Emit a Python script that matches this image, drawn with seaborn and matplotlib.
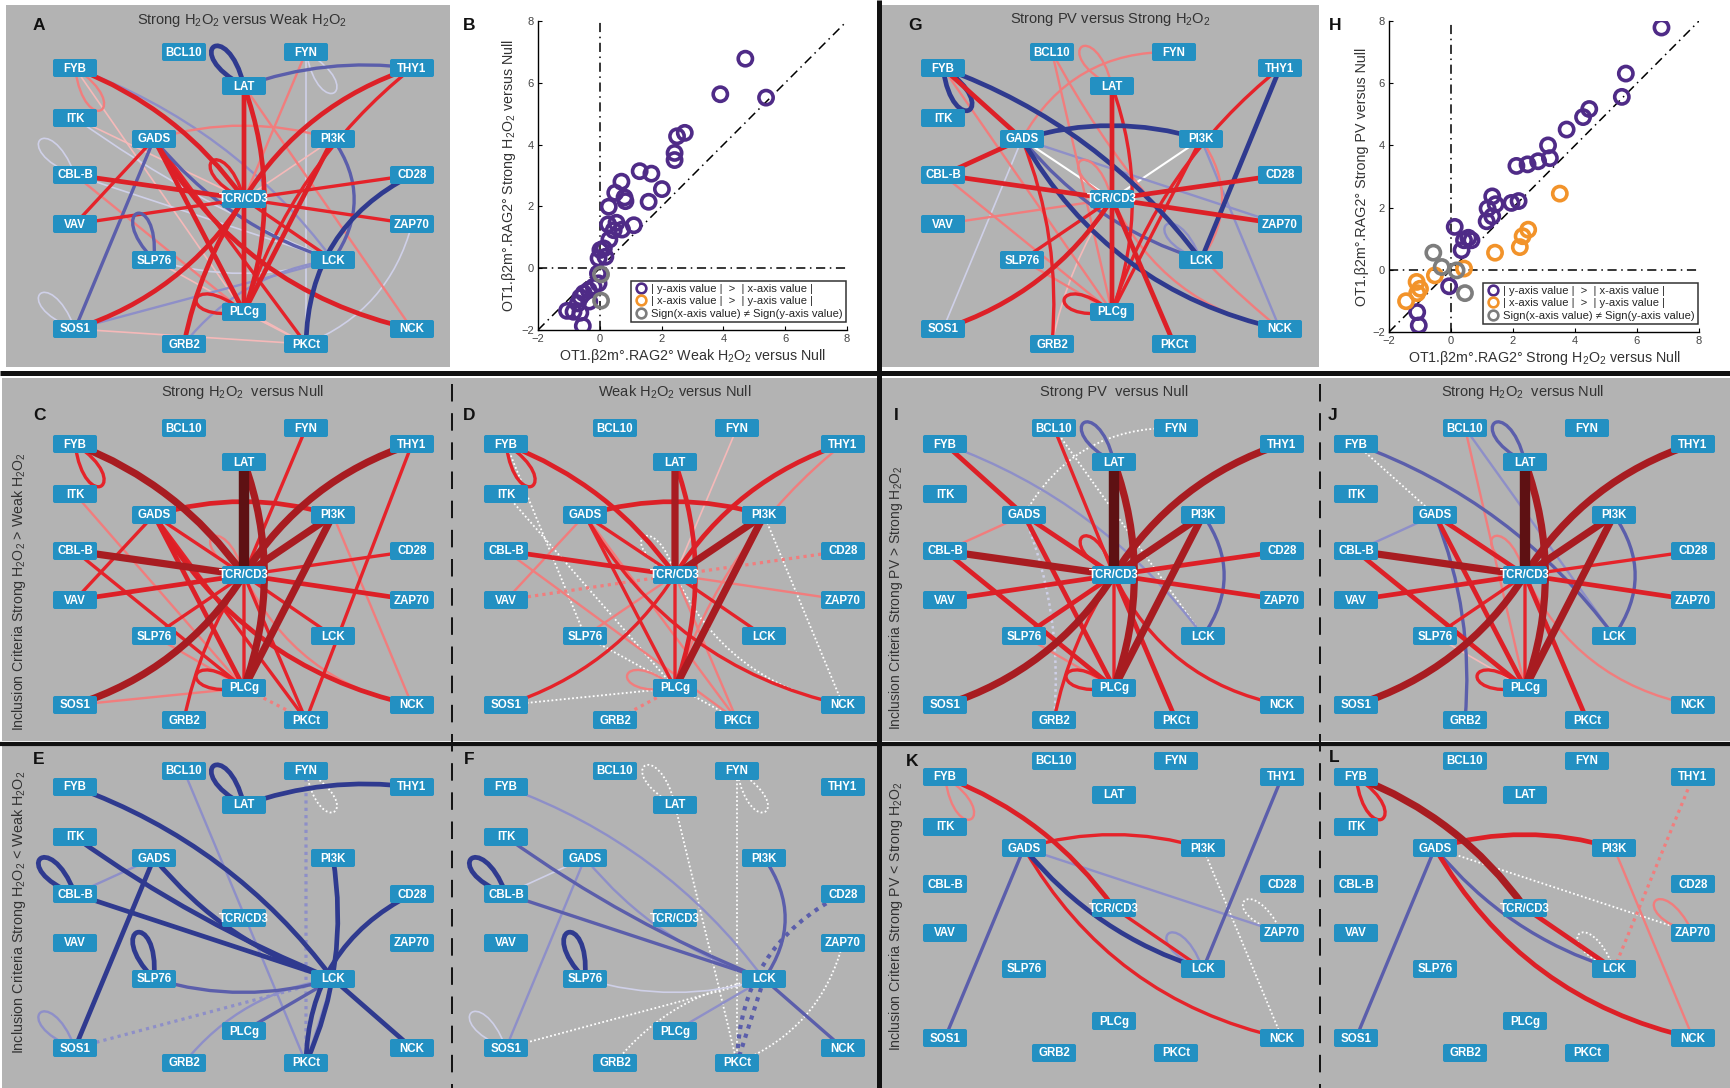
import numpy as np
import pandas as pd
import matplotlib
matplotlib.use("Agg")
import matplotlib.pyplot as plt
import seaborn as sns
from matplotlib.path import Path
from matplotlib.patches import PathPatch, Rectangle, FancyBboxPatch
from matplotlib.lines import Line2D
from matplotlib import font_manager

# ---------------------------------------------------------------- scatter data
B_PURPLE_X = [4.71, 3.90, 5.38, 2.75, 2.50, 2.42, 2.42, 1.29, 1.67, 2.01, 1.58,
              0.70, 0.50, 0.80, 0.83, 0.29, 1.10, 0.27, 0.54, 0.72, 0.45, 0.31,
              0.13, 0.02, -0.04, 0.18, -0.06, -0.04, -0.20, -0.36, -0.52, -0.63,
              -0.34, -0.71, -1.06, -0.85, -0.63, -0.55]
B_PURPLE_Y = [6.78, 5.63, 5.52, 4.38, 4.27, 3.73, 3.50, 3.14, 3.06, 2.56, 2.15,
              2.80, 2.44, 2.29, 2.17, 1.99, 1.39, 1.42, 1.47, 1.25, 1.23, 0.93,
              0.64, 0.59, 0.32, 0.37, -0.17, -0.49, -0.60, -0.71, -0.81, -0.94,
              -1.08, -1.14, -1.38, -1.41, -1.44, -1.87]
B_GRAY_X = [0.04, 0.04]
B_GRAY_Y = [-0.20, -1.05]

H_PURPLE_X = [6.79, 5.64, 5.51, 4.46, 4.26, 3.73, 3.13, 3.19, 2.81, 2.47, 2.11,
              2.18, 1.95, 1.33, 1.44, 1.18, 1.33, 1.15, 0.12, 0.56, 0.42, 0.66,
              0.34, -0.06, -1.09, -1.04]
H_PURPLE_Y = [7.79, 6.31, 5.56, 5.17, 4.91, 4.51, 4.00, 3.59, 3.49, 3.39, 3.34,
              2.21, 2.15, 2.36, 2.11, 1.97, 1.72, 1.56, 1.38, 1.03, 0.95, 0.95,
              0.63, -0.53, -1.36, -1.79]
H_ORANGE_X = [3.51, 2.49, 2.31, 2.22, 1.42, 0.42, -0.52, -1.11, -1.00, -1.09, -1.45]
H_ORANGE_Y = [2.45, 1.29, 1.08, 0.73, 0.55, 0.04, -0.18, -0.39, -0.61, -0.75, -1.01]
H_GRAY_X = [-0.57, -0.30, 0.18, 0.45]
H_GRAY_Y = [0.55, 0.09, -0.02, -0.75]

AXIS_TICKS = [-2, 0, 2, 4, 6, 8]
LEGEND_LABELS = ["| y-axis value |  >  | x-axis value |",
                 "| x-axis value |  >  | y-axis value |",
                 "Sign(x-axis value) \u2260 Sign(y-axis value)"]

# ---------------------------------------------------------------- network data
# edges: (node, node, signed strength); positive = red, negative = blue, 0 = white
EDGES_A = [
    ("FYB", "TCR/CD3", 4), ("FYB", "FYB", 2), ("FYB", "PLCg", 1), ("FYB", "LCK", -2),
    ("LAT", "LAT", -4), ("LAT", "THY1", -3), ("LAT", "TCR/CD3", 4), ("LAT", "PLCg", 4),
    ("LAT", "NCK", 2), ("FYN", "FYN", -1), ("FYN", "TCR/CD3", 2), ("FYN", "PKCt", -1),
    ("THY1", "TCR/CD3", 4), ("THY1", "PLCg", 3), ("ITK", "TCR/CD3", 1), ("ITK", "LCK", -1),
    ("GADS", "PI3K", 2), ("GADS", "PLCg", 4), ("GADS", "PKCt", 3), ("GADS", "VAV", 3),
    ("GADS", "SOS1", -3), ("GADS", "LCK", -3), ("GADS", "NCK", 4),
    ("PI3K", "TCR/CD3", 1), ("PI3K", "PLCg", 4), ("PI3K", "LCK", -3),
    ("CBL-B", "CBL-B", -1), ("CBL-B", "TCR/CD3", 4), ("CBL-B", "LCK", -1), ("CBL-B", "PLCg", 2),
    ("CD28", "TCR/CD3", 3), ("CD28", "PKCt", -4), ("VAV", "TCR/CD3", 3),
    ("ZAP70", "TCR/CD3", 3), ("ZAP70", "PKCt", -1),
    ("SLP76", "SLP76", -3), ("SLP76", "LCK", -1), ("SLP76", "PKCt", 1),
    ("LCK", "TCR/CD3", 3), ("PLCg", "PLCg", 3), ("PLCg", "TCR/CD3", 4), ("PLCg", "PKCt", 1),
    ("TCR/CD3", "TCR/CD3", 3), ("SOS1", "SOS1", -1), ("SOS1", "TCR/CD3", 4),
    ("SOS1", "LCK", -2), ("SOS1", "PKCt", 1), ("GRB2", "TCR/CD3", 4), ("GRB2", "LCK", -2),
]
DOTTED_A = []

EDGES_G = [
    ("FYB", "FYB", -4), ("FYB", "GADS", 4), ("FYB", "LCK", -4), ("FYB", "PLCg", 2),
    ("GADS", "PI3K", -4), ("GADS", "NCK", -4), ("GADS", "LCK", -3), ("THY1", "LCK", -4),
    ("GADS", "ZAP70", -2), ("PI3K", "NCK", -2), ("LCK", "LCK", -2), ("GADS", "SOS1", -1),
    ("CBL-B", "GADS", 4), ("CBL-B", "TCR/CD3", 4), ("CD28", "TCR/CD3", 4),
    ("ZAP70", "TCR/CD3", 4), ("LAT", "TCR/CD3", 4), ("LAT", "PLCg", 3), ("THY1", "PLCg", 3),
    ("PI3K", "PLCg", 3), ("SLP76", "TCR/CD3", 3), ("SOS1", "TCR/CD3", 4),
    ("PLCg", "TCR/CD3", 4), ("PKCt", "TCR/CD3", 4), ("PLCg", "PLCg", 3), ("GADS", "GRB2", 3),
    ("LAT", "LAT", 2), ("FYN", "GADS", 2), ("BCL10", "PLCg", 2), ("BCL10", "NCK", 2),
    ("CBL-B", "PLCg", 2), ("VAV", "TCR/CD3", 2), ("PI3K", "LCK", 2), ("SLP76", "PLCg", 2),
    ("GRB2", "TCR/CD3", 1), ("TCR/CD3", "NCK", 2), ("TCR/CD3", "TCR/CD3", 2),
    ("GADS", "TCR/CD3", 0), ("PI3K", "TCR/CD3", 0),
]
DOTTED_G = []

EDGES_C = [
    ("FYB", "FYB", 3), ("FYB", "TCR/CD3", 5), ("ITK", "PLCg", 2), ("LAT", "TCR/CD3", 6),
    ("LAT", "PLCg", 5), ("THY1", "TCR/CD3", 5), ("THY1", "PKCt", 3), ("FYN", "TCR/CD3", 3),
    ("PI3K", "TCR/CD3", 5), ("PI3K", "PLCg", 5), ("PI3K", "NCK", 2), ("GADS", "PI3K", 4),
    ("GADS", "TCR/CD3", 3), ("GADS", "PLCg", 4), ("GADS", "PKCt", 3), ("GADS", "VAV", 3),
    ("GADS", "NCK", 4), ("CBL-B", "TCR/CD3", 5), ("CBL-B", "PLCg", 3), ("VAV", "TCR/CD3", 4),
    ("CD28", "TCR/CD3", 3), ("ZAP70", "TCR/CD3", 4), ("LCK", "TCR/CD3", 3),
    ("SLP76", "TCR/CD3", 3), ("GRB2", "TCR/CD3", 3), ("PKCt", "TCR/CD3", 3),
    ("PLCg", "TCR/CD3", 3), ("SOS1", "TCR/CD3", 5), ("SOS1", "PLCg", 2), ("SLP76", "PLCg", 2),
    ("PLCg", "PLCg", 3), ("TCR/CD3", "TCR/CD3", 2), ("TCR/CD3", "NCK", 2),
]
DOTTED_C = [("PLCg", "PKCt", 2)]

EDGES_D = [
    ("FYB", "FYB", 3), ("FYB", "TCR/CD3", 4), ("LAT", "TCR/CD3", 5), ("LAT", "PLCg", 4),
    ("THY1", "TCR/CD3", 4), ("THY1", "PLCg", 2), ("FYN", "TCR/CD3", 1),
    ("PI3K", "TCR/CD3", 5), ("PI3K", "PLCg", 5), ("GADS", "PI3K", 4), ("GADS", "TCR/CD3", 3),
    ("GADS", "PLCg", 3), ("GADS", "PKCt", 2), ("GADS", "NCK", 3), ("CBL-B", "TCR/CD3", 4),
    ("CBL-B", "PKCt", 2), ("GADS", "VAV", 2), ("ZAP70", "TCR/CD3", 2), ("LCK", "TCR/CD3", 3),
    ("SLP76", "TCR/CD3", 2), ("PLCg", "TCR/CD3", 3), ("PKCt", "TCR/CD3", 2),
    ("PLCg", "PLCg", 2), ("SOS1", "TCR/CD3", 3),
]
DOTTED_D = [
    ("FYB", "SLP76", 0), ("ITK", "PLCg", 0), ("PI3K", "NCK", 0), ("SOS1", "PLCg", 0),
    ("SLP76", "PKCt", 0), ("TCR/CD3", "TCR/CD3", 0), ("TCR/CD3", "NCK", 0),
    ("GRB2", "PLCg", 2), ("VAV", "TCR/CD3", 2), ("CD28", "TCR/CD3", 2),
]

EDGES_E = [
    ("FYB", "LCK", -4), ("BCL10", "PKCt", -2), ("LAT", "LAT", -4), ("LAT", "THY1", -4),
    ("ITK", "LCK", -4), ("CBL-B", "CBL-B", -4), ("CBL-B", "GADS", -2), ("CBL-B", "LCK", -4),
    ("GADS", "SOS1", -4), ("GADS", "LCK", -4), ("SLP76", "SLP76", -4), ("SLP76", "LCK", -3),
    ("SOS1", "SOS1", -2), ("PI3K", "PKCt", -4), ("CD28", "PKCt", -4), ("LCK", "PLCg", -3),
    ("LCK", "NCK", -4), ("GRB2", "LCK", -2), ("LCK", "PKCt", -2),
]
DOTTED_E = [("FYN", "FYN", 0), ("FYN", "PKCt", -2), ("SOS1", "LCK", -2)]

EDGES_F = [
    ("FYB", "LCK", -2), ("ITK", "LCK", -3), ("CBL-B", "CBL-B", -4), ("CBL-B", "GADS", -1),
    ("CBL-B", "LCK", -3), ("GADS", "SOS1", -2), ("GADS", "LCK", -2), ("SLP76", "SLP76", -4),
    ("SLP76", "LCK", -1), ("SOS1", "SOS1", -1), ("PI3K", "LCK", -3), ("LCK", "PLCg", -2),
    ("LCK", "NCK", -3),
]
DOTTED_F = [
    ("LAT", "LAT", 0), ("LAT", "PKCt", 0), ("FYN", "FYN", 0), ("FYN", "PKCt", 0),
    ("SOS1", "LCK", 0), ("CD28", "PKCt", -3), ("ZAP70", "PKCt", 0), ("GRB2", "LCK", 0),
    ("LCK", "PKCt", -3),
]

EDGES_I = [
    ("FYB", "GADS", 4), ("FYB", "LCK", -2), ("BCL10", "TCR/CD3", 3), ("LAT", "LAT", -3),
    ("LAT", "TCR/CD3", 6), ("LAT", "PLCg", 5), ("THY1", "TCR/CD3", 5), ("PI3K", "TCR/CD3", 5),
    ("PI3K", "PLCg", 5), ("PI3K", "LCK", -3), ("GADS", "TCR/CD3", 4), ("GADS", "PLCg", 4),
    ("CBL-B", "GADS", 2), ("CBL-B", "TCR/CD3", 5), ("CBL-B", "PLCg", 4), ("VAV", "TCR/CD3", 4),
    ("CD28", "TCR/CD3", 4), ("ZAP70", "TCR/CD3", 4), ("SLP76", "TCR/CD3", 4),
    ("SLP76", "PLCg", 2), ("SOS1", "TCR/CD3", 5), ("GRB2", "TCR/CD3", 3),
    ("PLCg", "TCR/CD3", 3), ("PLCg", "PLCg", 3), ("TCR/CD3", "TCR/CD3", 3),
    ("PKCt", "TCR/CD3", 4), ("TCR/CD3", "NCK", 3),
]
DOTTED_I = [("BCL10", "LCK", 0), ("FYN", "GADS", 0), ("GADS", "GRB2", -1)]

EDGES_J = [
    ("FYB", "LCK", -3), ("BCL10", "LCK", -2), ("BCL10", "PLCg", 2), ("LAT", "LAT", -3),
    ("LAT", "TCR/CD3", 6), ("LAT", "PLCg", 5), ("THY1", "TCR/CD3", 5), ("PI3K", "TCR/CD3", 5),
    ("PI3K", "PLCg", 5), ("PI3K", "LCK", -3), ("GADS", "TCR/CD3", 4), ("GADS", "PLCg", 4),
    ("CBL-B", "GADS", -2), ("GADS", "GRB2", -3), ("CBL-B", "TCR/CD3", 5), ("CBL-B", "PLCg", 4),
    ("VAV", "TCR/CD3", 4), ("CD28", "TCR/CD3", 3), ("ZAP70", "TCR/CD3", 4),
    ("SLP76", "TCR/CD3", 3), ("SLP76", "PLCg", 1), ("SOS1", "TCR/CD3", 5),
    ("PLCg", "TCR/CD3", 3), ("PLCg", "PLCg", 3), ("TCR/CD3", "TCR/CD3", 2),
    ("PKCt", "TCR/CD3", 4), ("TCR/CD3", "NCK", 2),
]
DOTTED_J = [("FYB", "GADS", 0)]

EDGES_K = [
    ("FYB", "FYB", 2), ("FYB", "TCR/CD3", 4), ("TCR/CD3", "LCK", 3), ("GADS", "PI3K", 3),
    ("GADS", "ZAP70", -2), ("GADS", "LCK", -4), ("GADS", "SOS1", -3), ("GADS", "NCK", 3),
    ("LCK", "LCK", -2), ("LCK", "THY1", -3),
]
DOTTED_K = [("PI3K", "NCK", 0), ("ZAP70", "ZAP70", 0)]

EDGES_L = [
    ("FYB", "FYB", 3), ("FYB", "TCR/CD3", 5), ("TCR/CD3", "LCK", 4), ("GADS", "PI3K", 4),
    ("GADS", "LCK", -3), ("GADS", "SOS1", -3), ("GADS", "NCK", 4), ("PI3K", "NCK", 2),
    ("ZAP70", "ZAP70", 2),
]
DOTTED_L = [("GADS", "ZAP70", 0), ("LCK", "LCK", 0), ("LCK", "THY1", 2)]

# ---------------------------------------------------------------- layout / style
# node offsets from the TCR/CD3 hub, in pixels (y grows downward)
LAYOUT = {
    "BCL10": (-60, -147), "FYN": (62, -147), "FYB": (-169, -131), "THY1": (168, -131),
    "LAT": (0, -113), "ITK": (-169, -81), "GADS": (-90, -60), "PI3K": (89, -60),
    "CBL-B": (-169, -24), "CD28": (168, -24), "TCR/CD3": (0, 0), "VAV": (-169, 25),
    "ZAP70": (168, 25), "SLP76": (-90, 61), "LCK": (89, 61), "PLCg": (0, 113),
    "SOS1": (-169, 130), "NCK": (168, 130), "GRB2": (-60, 145), "PKCt": (62, 145),
}
# curvature of specific edges (sign follows the written node order)
BEND = {
    ("FYB", "TCR/CD3"): -0.15, ("LAT", "PLCg"): -0.18, ("THY1", "TCR/CD3"): 0.18,
    ("SOS1", "TCR/CD3"): 0.18, ("GADS", "PI3K"): -0.15, ("GADS", "NCK"): 0.22,
    ("CD28", "PKCt"): 0.3, ("ZAP70", "PKCt"): -0.25, ("FYB", "LCK"): -0.15,
    ("GADS", "LCK"): 0.15, ("LAT", "THY1"): -0.12, ("SLP76", "LCK"): 0.15,
    ("ITK", "LCK"): 0.06, ("PI3K", "LCK"): -0.35, ("PI3K", "PKCt"): -0.15,
    ("GRB2", "LCK"): -0.2, ("TCR/CD3", "NCK"): 0.25, ("FYN", "GADS"): 0.3,
    ("THY1", "PLCg"): 0.15, ("GADS", "GRB2"): -0.12, ("GRB2", "TCR/CD3"): -0.1,
    ("FYB", "NCK"): 0.1, ("BCL10", "NCK"): 0.1,
}
# direction (degrees, counter-clockwise from east) in which each self-loop points
LOOP_ANGLE = {
    "FYB": -58, "LAT": 128, "FYN": -55, "CBL-B": 135, "SOS1": 135, "SLP76": 110,
    "PLCg": 165, "TCR/CD3": 130, "LCK": 135, "ZAP70": 140,
}

RED = {1: "#f5b9b9", 2: "#f17d7d", 3: "#e5232a", 4: "#dd2027", 5: "#a81c21", 6: "#5e1113"}
BLUE = {1: "#cfd0e8", 2: "#8e8fc8", 3: "#5b5eab", 4: "#2f3a8f"}
WIDTH = {0: 1.5, 1: 1.2, 2: 1.7, 3: 2.4, 4: 3.4, 5: 5.2, 6: 7.5}
PANEL_GRAY = "#b3b3b3"
NODE_BLUE = "#2390c2"

sns.set_theme(style="white")
available = {f.name for f in font_manager.fontManager.ttflist}
NARROW = "Liberation Sans Narrow" if "Liberation Sans Narrow" in available else "Liberation Sans"
plt.rcParams["font.family"] = ["Liberation Sans", "DejaVu Sans"]
plt.rcParams["mathtext.fontset"] = "custom"
plt.rcParams["mathtext.rm"] = "Liberation Sans"

W, H = 1730, 1088
fig = plt.figure(figsize=(W / 100, H / 100), dpi=100)
canvas = fig.add_axes([0, 0, 1, 1])
canvas.set_xlim(0, W)
canvas.set_ylim(H, 0)
canvas.axis("off")


def edge_color(v):
    if v == 0:
        return "#ffffff"
    return RED[v] if v > 0 else BLUE[-v]


def bend_of(a, b):
    if (a, b) in BEND:
        return BEND[(a, b)]
    if (b, a) in BEND:
        return -BEND[(b, a)]
    return 0.0


def edge_path(p, q, k):
    p, q = np.array(p, float), np.array(q, float)
    d = q - p
    ctrl = (p + q) / 2 + k * np.array([-d[1], d[0]])
    return Path([p, ctrl, q], [Path.MOVETO, Path.CURVE3, Path.CURVE3])


def loop_path(p, angle):
    p = np.array(p, float)
    t = np.radians(angle)
    u = np.array([np.cos(t), -np.sin(t)])
    n = np.array([-u[1], u[0]])
    c1 = p + 66 * u + 30 * n
    c2 = p + 66 * u - 30 * n
    return Path([p, c1, c2, p], [Path.MOVETO, Path.CURVE4, Path.CURVE4, Path.CURVE4])


def draw_network(center, solid, dotted):
    cx, cy = center
    pos = {n: (cx + dx, cy + dy) for n, (dx, dy) in LAYOUT.items()}
    items = [(a, b, v, False) for a, b, v in solid] + [(a, b, v, True) for a, b, v in dotted]
    items.sort(key=lambda e: abs(e[2]))
    for a, b, v, dot in items:
        path = loop_path(pos[a], LOOP_ANGLE[a]) if a == b else edge_path(pos[a], pos[b], bend_of(a, b))
        lw = WIDTH[abs(v)]
        ls = "-"
        if dot:
            lw = 1.3 if v == 0 else lw + 0.6
            ls = (0, (1, 1.3))
        canvas.add_patch(PathPatch(path, fill=False, ec=edge_color(v), lw=lw, ls=ls,
                                   capstyle="butt", zorder=3 + abs(v) * 0.1))
    for name, (x, y) in pos.items():
        canvas.add_patch(FancyBboxPatch((x - 22, y - 9), 44, 18,
                                        boxstyle="round,pad=0,rounding_size=2",
                                        fc=NODE_BLUE, ec="none", zorder=10))
        canvas.text(x, y + 0.5, name, color="white", fontsize=8.3, fontweight="bold",
                    family=NARROW, ha="center", va="center", zorder=11)


# ---------------------------------------------------------------- backgrounds
for (x0, y0, x1, y1) in [(6, 5, 450, 367), (882, 5, 1319, 367),
                         (2, 378, 877, 741), (881, 378, 1730, 741),
                         (2, 746, 877, 1088), (881, 746, 1730, 1088)]:
    canvas.add_patch(Rectangle((x0, y0), x1 - x0, y1 - y0, fc=PANEL_GRAY, ec="none", zorder=0))
canvas.plot([0, W], [373, 373], color="#111111", lw=3.6, zorder=20, solid_capstyle="butt")
canvas.plot([0, W], [743.5, 743.5], color="#111111", lw=3.0, zorder=20, solid_capstyle="butt")
canvas.plot([879, 879], [0, H], color="#111111", lw=3.6, zorder=20, solid_capstyle="butt")
for xd in (452, 1320):
    canvas.plot([xd, xd], [384, H], color="#111111", lw=1.4, dashes=(9, 6), zorder=20)

# ---------------------------------------------------------------- networks
draw_network((244, 199), EDGES_A, DOTTED_A)
draw_network((1112, 199), EDGES_G, DOTTED_G)
draw_network((244, 575), EDGES_C, DOTTED_C)
draw_network((675, 575), EDGES_D, DOTTED_D)
draw_network((1114, 575), EDGES_I, DOTTED_I)
draw_network((1525, 575), EDGES_J, DOTTED_J)
draw_network((244, 918), EDGES_E, DOTTED_E)
draw_network((675, 918), EDGES_F, DOTTED_F)
draw_network((1114, 908), EDGES_K, DOTTED_K)
draw_network((1525, 908), EDGES_L, DOTTED_L)

# ---------------------------------------------------------------- titles and letters
H2O2 = r"H$_2$O$_2$"
titles = [((242, 20), f"Strong {H2O2} versus Weak {H2O2}", None, 10.5),
          ((1110, 20), f"Strong PV versus Strong {H2O2}", None, 10.5),
          ((243, 392), f"Strong {H2O2}  versus Null", NARROW, 10.5),
          ((675, 392), f"Weak {H2O2} versus Null", NARROW, 10.5),
          ((1114, 392), "Strong PV  versus Null", NARROW, 10.5),
          ((1523, 392), f"Strong {H2O2}  versus Null", NARROW, 10.5)]
for (x, y), txt, fam, fs in titles:
    kw = {"family": fam} if fam else {}
    canvas.text(x, y, txt, fontsize=fs, color="#333333", ha="center", va="center", zorder=21, **kw)

letters = [("A", 39, 26), ("B", 469, 25), ("G", 915, 26), ("H", 1335, 25),
           ("C", 39, 415), ("D", 469, 415), ("I", 896, 415), ("J", 1333, 415),
           ("E", 39, 759), ("F", 469, 759), ("K", 912, 761), ("L", 1334, 758)]
for s, x, y in letters:
    canvas.text(x, y, s, fontsize=12.5, fontweight="bold", color="#111111",
                ha="center", va="center", zorder=21)

rows = [((19, 592), f"Inclusion Criteria Strong {H2O2} > Weak {H2O2}", 10.2),
        ((19, 912), f"Inclusion Criteria Strong {H2O2} < Weak {H2O2}", 10.4),
        ((896, 598), f"Inclusion Criteria Strong PV > Strong {H2O2}", 10.0),
        ((896, 916), f"Inclusion Criteria Strong PV < Strong {H2O2}", 10.2)]
for (x, y), txt, fs in rows:
    canvas.text(x, y, txt, rotation=90, fontsize=fs, color="#333333",
                ha="center", va="center", zorder=21)

# ---------------------------------------------------------------- scatter panels
PALETTE = {"purple": "#4f2b87", "orange": "#f2932a", "gray": "#7d7d7d"}


def scatter_panel(box, groups, xlabel, ylabel):
    x0, y0, x1, y1 = box
    ax = fig.add_axes([x0 / W, 1 - y1 / H, (x1 - x0) / W, (y1 - y0) / H])
    ax.set_facecolor("none")
    frames = [pd.DataFrame({"x": gx, "y": gy, "group": g}) for g, gx, gy in groups]
    df = pd.concat(frames, ignore_index=True)
    ref = dict(color="black", lw=1.1, ls=(0, (6, 3, 1, 3)), zorder=1)
    ax.plot([-2, 8], [-2, 8], **ref)
    ax.plot([-2, 8], [0, 0], **ref)
    ax.plot([0, 0], [-2, 8], **ref)
    sns.scatterplot(data=df, x="x", y="y", hue="group", palette=PALETTE, s=105,
                    legend=False, ax=ax, zorder=3)
    coll = ax.collections[-1]
    fc = coll.get_facecolors()
    coll.set_edgecolors(fc)
    coll.set_facecolors("none")
    coll.set_linewidths(2.6)
    ax.set_xlim(-2, 8)
    ax.set_ylim(-2, 8)
    ax.set_xticks(AXIS_TICKS)
    ax.set_yticks(AXIS_TICKS)
    ax.set_xticklabels(["\u22122" if t == -2 else str(t) for t in AXIS_TICKS])
    ax.set_yticklabels(["\u22122" if t == -2 else str(t) for t in AXIS_TICKS])
    ax.tick_params(direction="in", length=3, width=0.8, labelsize=8,
                   labelcolor="#444444", color="black", pad=3, bottom=True, left=True)
    for side in ("top", "right"):
        ax.spines[side].set_visible(False)
    for side in ("left", "bottom"):
        ax.spines[side].set_color("black")
        ax.spines[side].set_linewidth(1.0)
    ax.set_xlabel(xlabel, fontsize=10.3, color="#333333", labelpad=2)
    ax.set_ylabel(ylabel, fontsize=10.3, color="#333333", labelpad=2)
    handles = [Line2D([], [], marker="o", ls="none", mfc="none", mec=PALETTE[g],
                      mew=1.9, ms=7) for g in ("purple", "orange", "gray")]
    leg = ax.legend(handles, LEGEND_LABELS, loc="lower right", bbox_to_anchor=(0.997, 0.025),
                    fontsize=8.1, frameon=True, fancybox=False, edgecolor="black",
                    handletextpad=0.3, borderpad=0.3, labelspacing=0.22, handlelength=1.2,
                    borderaxespad=0)
    leg.get_frame().set_linewidth(1.1)
    return ax


LABEL = "OT1.\u03b22m\u00b0.RAG2\u00b0 "
scatter_panel((538, 21, 847, 330),
              [("purple", B_PURPLE_X, B_PURPLE_Y), ("gray", B_GRAY_X, B_GRAY_Y)],
              LABEL + f"Weak {H2O2} versus Null", LABEL + f"Strong {H2O2} versus Null")
scatter_panel((1389, 21, 1699, 332),
              [("purple", H_PURPLE_X, H_PURPLE_Y), ("orange", H_ORANGE_X, H_ORANGE_Y),
               ("gray", H_GRAY_X, H_GRAY_Y)],
              LABEL + f"Strong {H2O2} versus Null", LABEL + "Strong PV versus Null")

fig.savefig("out.png", dpi=100, facecolor="white")
